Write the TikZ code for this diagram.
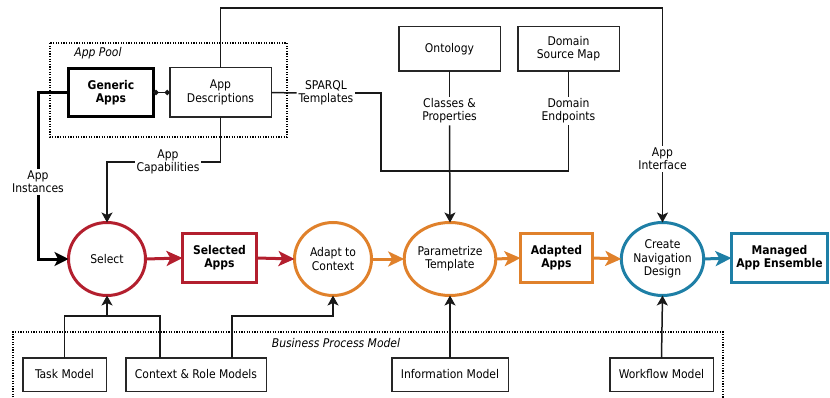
\documentclass[tikz,border=0pt]{standalone}
\usepackage{fontspec}
\setmainfont{DejaVu Sans Condensed}
\usetikzlibrary{arrows.meta,shapes.geometric,positioning}
\definecolor{cred}{HTML}{B31F2E}
\definecolor{corange}{HTML}{E0812B}
\definecolor{cblue}{HTML}{1E7FA6}
\begin{document}
\begin{tikzpicture}[x=1pt,y=-1pt,
  every node/.style={font=\fontsize{12}{13.3}\selectfont, align=center, inner sep=0pt, outer sep=0pt},
  plainbox/.style={draw=black!85, line width=1.5pt, rectangle, fill=white},
  procnode/.style={ellipse, line width=3pt, minimum width=77pt, minimum height=73pt, fill=white},
  resbox/.style={rectangle, line width=3pt, font=\fontsize{12}{13.3}\selectfont\bfseries, fill=white},
  lbl/.style={inner sep=2pt},
  conn/.style={line width=1.5pt, draw=black!90},
  carr/.style={conn, -{Stealth[length=10pt,width=11pt,inset=2.5pt]}},
  flow/.style={line width=3pt, -{Stealth[length=16pt,width=15pt,inset=4pt]}},
  dotbox/.style={line width=1.2pt, dash pattern=on 1.2pt off 1.4pt}
]
\useasboundingbox (0,0) rectangle (830,398);

% group frames
\draw[dotbox] (50,43) rectangle (287,137);
\node[font=\fontsize{12}{13.3}\selectfont\itshape] (poollbl) at (98,53) {App Pool};
\draw[dotbox] (13,400) |- (723,332) -- (723,400);
\node[font=\fontsize{12}{13.3}\selectfont\itshape] (bpmlbl) at (336,343) {Business Process Model};

% top boxes
\node[plainbox, draw=black, line width=3pt, minimum width=85pt, minimum height=48pt, font=\fontsize{12}{13.3}\selectfont\bfseries] (generic) at (111,92.5) {Generic\\Apps};
\node[plainbox, minimum width=101.5pt, minimum height=49.5pt] (desc) at (220.5,92.5) {App\\Descriptions};
\node[plainbox, minimum width=101.5pt, minimum height=44.5pt] (onto) at (449.5,49) {Ontology};
\node[plainbox, minimum width=101.5pt, minimum height=44.5pt] (dsm) at (568.5,49) {Domain\\Source Map};

% process row
\node[procnode, draw=cred] (select) at (107,259) {Select};
\node[resbox, draw=cred, minimum width=74pt, minimum height=49pt] (selapps) at (219.5,258) {Selected\\Apps};
\node[procnode, draw=corange] (adapt) at (333,259) {Adapt to\\Context};
\node[procnode, draw=corange] (param) at (450,259) {Parametrize\\Template};
\node[resbox, draw=corange, minimum width=72pt, minimum height=49pt] (adapps) at (556.5,258) {Adapted\\Apps};
\node[procnode, draw=cblue] (create) at (662.5,259) {Create\\Navigation\\Design};
\node[resbox, draw=cblue, minimum width=96pt, minimum height=49pt] (managed) at (779.5,258) {Managed\\App Ensemble};

% bottom boxes
\node[plainbox, minimum width=83.5pt, minimum height=33.5pt] (task) at (64.5,374.5) {Task Model};
\node[plainbox, minimum width=140.5pt, minimum height=33.5pt] (ctx) at (196,374.5) {Context \& Role Models};
\node[plainbox, minimum width=116.5pt, minimum height=33.5pt] (info) at (450,374.5) {Information Model};
\node[plainbox, minimum width=103.5pt, minimum height=33.5pt] (wf) at (661.5,374.5) {Workflow Model};

% line labels
\node[lbl] (inst) at (38,182) {App\\Instances};
\node[lbl] (capab) at (168,162) {App\\Capabilities};
\node[lbl] (sparql) at (326,93) {SPARQL\\Templates};
\node[lbl] (cls) at (449.5,111) {Classes \&\\Properties};
\node[lbl] (dep) at (568.5,111) {Domain\\Endpoints};
\node[lbl] (appif) at (662.5,159) {App\\Interface};

% coordinates
\coordinate (tc) at (662.5,8);
\coordinate (jl) at (381,171);
\coordinate (jc) at (449.5,171);
\coordinate (sj) at (107,316);

% connectors
\draw[conn, {Circle[length=5pt]}-{Circle[length=5pt]}] (generic.east) -- (desc.west);
\draw[line width=3pt] (generic.west) -| (inst.north);
\draw[line width=3pt, -{Stealth[length=14pt,width=14pt,inset=3.5pt]}] (inst.south) |- (select.west);
\draw[conn] (desc.south) |- (capab.east);
\draw[carr] (capab.west) -| (select.north);
\draw[conn] (desc.north) |- (tc) -- (appif.north);
\draw[carr] (appif.south) -- (create.north);
\draw[conn] (desc.east) -- (sparql.west);
\draw[conn] (sparql.east) -| (jl) -- (jc);
\draw[conn] (onto.south) -- (cls.north);
\draw[carr] (cls.south) -- (param.north);
\draw[conn] (dsm.south) -- (dep.north);
\draw[conn] (dep.south) |- (jc);

\draw[conn] (task.north) |- (sj);
\draw[conn] ([xshift=-36pt]ctx.north) |- (sj);
\draw[carr] (sj) -- (select.south);
\draw[carr] ([xshift=36pt]ctx.north) |- (adapt.south |- sj) -- (adapt.south);
\draw[carr] (info.north) -- (param.south);
\draw[carr] (wf.north) -- (create.south);

% flow arrows
\draw[flow, cred] (select.east) -- (selapps.west);
\draw[flow, cred] (selapps.east) -- (adapt.west);
\draw[flow, corange] (adapt.east) -- (param.west);
\draw[flow, corange] (param.east) -- (adapps.west);
\draw[flow, corange] (adapps.east) -- (create.west);
\draw[flow, cblue] (create.east) -- (managed.west);
\end{tikzpicture}
\end{document}
